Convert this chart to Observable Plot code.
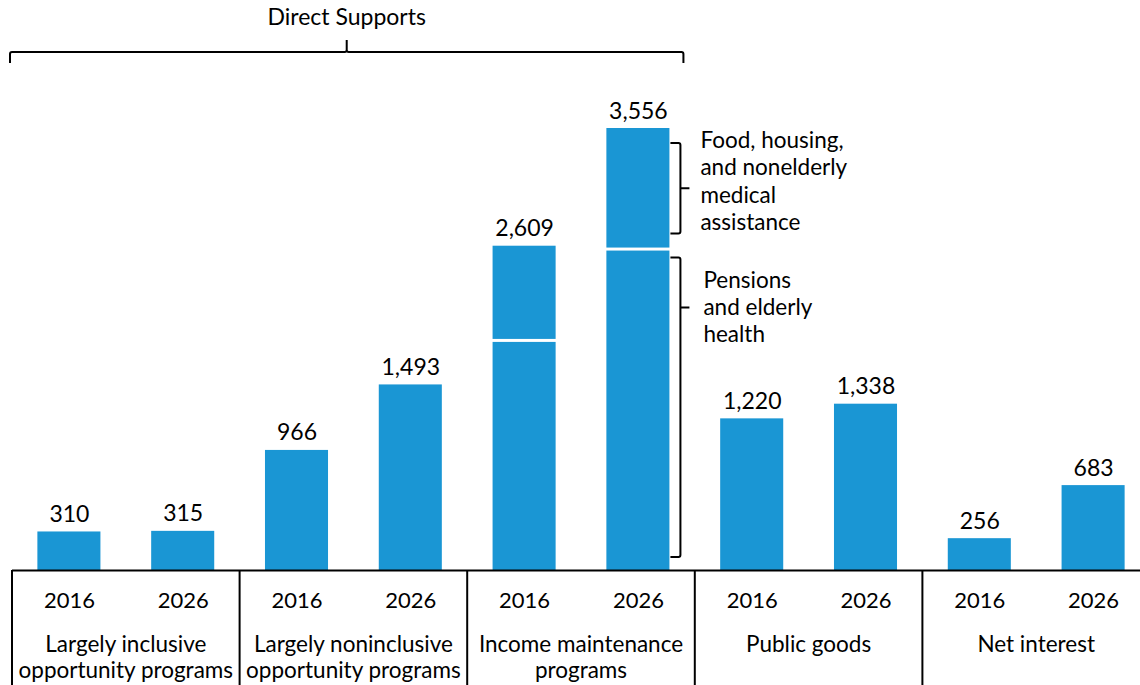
<!DOCTYPE html>
<html><head><meta charset="utf-8">
<script src="https://cdn.jsdelivr.net/npm/d3@7"></script>
<script src="https://cdn.jsdelivr.net/npm/@observablehq/plot@0.6"></script>
<style>
body{margin:0;background:#fff;}
#chart svg{display:block;font-family:Lato,"Noto Sans",sans-serif;}
</style></head><body><div id="chart"></div>
<script>
// ---- data ----
const groups = ["Largely inclusive opportunity programs","Largely noninclusive opportunity programs","Income maintenance programs","Public goods","Net interest"];
const groupLines = [["Largely inclusive","opportunity programs"],["Largely noninclusive","opportunity programs"],["Income maintenance","programs"],["Public goods"],["Net interest"]];
const years = ["2016","2026"];
const totals2016 = [310, 966, 2609, 1220, 256];
const totals2026 = [315, 1493, 3556, 1338, 683];
const stackedGroup = "Income maintenance programs";
const pensionsElderly = [1835, 2570]; // lower segment (2016, 2026)
const annotationFood = ["Food, housing,","and nonelderly","medical","assistance"];
const annotationPensions = ["Pensions","and elderly","health"];
const bracketLabel = "Direct Supports";
const bracketGroupCount = 3;

// ---- derived table ----
const keyOf = (g, yr) => g + "|" + yr;
const rows = [];
groups.forEach((g, i) => {
  years.forEach((yr, j) => {
    const total = (j === 0 ? totals2016 : totals2026)[i];
    const lower = g === stackedGroup ? pensionsElderly[j] : total;
    rows.push({key: keyOf(g, yr), group: g, year: yr, total, lower});
  });
});
const keys = rows.map(d => d.key);
const lowerRows = rows.map(d => ({key: d.key, y1: 0, y2: d.lower}));
const upperRows = rows.filter(d => d.lower < d.total).map(d => ({key: d.key, y1: d.lower, y2: d.total}));

const blue = "#1a96d4";
const FONT = "Lato, 'Noto Sans', sans-serif";

function annotate(index, scales, values, dimensions) {
  const {x, y} = scales;
  const bw = x.bandwidth();
  const step = x(keyOf(groups[0], years[1])) - x(keyOf(groups[0], years[0]));
  const gap = step - bw;
  const base = y(0);
  const g = d3.create("svg:g").attr("font-family", FONT).attr("fill", "#000").attr("text-anchor", "start");
  // group dividers and labels
  groups.forEach((grp, i) => {
    const bx = x(keyOf(grp, years[0])) - gap / 2;
    g.append("line").attr("x1", bx).attr("x2", bx).attr("y1", base).attr("y2", dimensions.height)
      .attr("stroke", "#000").attr("stroke-width", 2);
    const cx = bx + step;
    const t = g.append("text").attr("text-anchor", "middle").attr("font-size", 22.5);
    groupLines[i].forEach((line, j) => t.append("tspan").attr("x", cx).attr("y", base + 82 + j * 26).text(line));
  });
  // Direct Supports bracket
  const bl = x(keyOf(groups[0], years[0])) - gap / 2 - 2;
  const br = x(keyOf(groups[bracketGroupCount - 1], years[1])) + bw + 14;
  const bm = (bl + br) / 2;
  const by = 52;
  g.append("path").attr("fill", "none").attr("stroke", "#000").attr("stroke-width", 2)
    .attr("d", `M${bl},${by + 11}V${by + 2}Q${bl},${by} ${bl + 2},${by}H${bm - 2}Q${bm},${by} ${bm},${by - 2}V${by - 12}M${bm},${by - 2}Q${bm},${by} ${bm + 2},${by}H${br - 2}Q${br},${by} ${br},${by + 2}V${by + 11}`);
  g.append("text").attr("x", bm).attr("y", 25).attr("text-anchor", "middle").attr("font-size", 23).text(bracketLabel);
  // side brackets for stacked bar
  const s = rows.find(d => d.key === keyOf(stackedGroup, years[1]));
  const ex = x(s.key) + bw;
  const vx = ex + 11, hx = ex + 1, tx = ex + 20;
  const topY0 = y(s.total) + 15, topY1 = y(s.lower) - 17, topMid = (topY0 + topY1) / 2;
  const lowY0 = y(s.lower) + 7, lowY1 = base - 13, lowMid = y(s.lower) + 57;
  const bracket = (y0, y1, ym) => `M${hx},${y0}H${vx - 2}Q${vx},${y0} ${vx},${y0 + 2}V${y1 - 2}Q${vx},${y1} ${vx - 2},${y1}H${hx}M${vx},${ym}H${tx}`;
  g.append("path").attr("fill", "none").attr("stroke", "#000").attr("stroke-width", 2).attr("d", bracket(topY0, topY1, topMid));
  g.append("path").attr("fill", "none").attr("stroke", "#000").attr("stroke-width", 2).attr("d", bracket(lowY0, lowY1, lowMid));
  const t1 = g.append("text").attr("font-size", 22.5).attr("text-anchor", "start");
  annotationFood.forEach((line, j) => t1.append("tspan").attr("x", ex + 31).attr("y", y(s.total) + 20 + j * 27.3).text(line));
  const t2 = g.append("text").attr("font-size", 22.5).attr("text-anchor", "start");
  annotationPensions.forEach((line, j) => t2.append("tspan").attr("x", ex + 34).attr("y", y(s.lower) + 37 + j * 27).text(line));
  return g.node();
}

const chart = Plot.plot({
  width: 1140,
  height: 685,
  marginTop: 128,
  marginBottom: 115,
  marginLeft: 12,
  marginRight: 0,
  style: {fontFamily: FONT, color: "#000", background: "#fff"},
  x: {type: "band", domain: keys, range: [12, 1150], paddingInner: 0.446, paddingOuter: 0.223, round: false},
  y: {domain: [0, 3556], axis: null},
  marks: [
    Plot.barY(lowerRows, {x: "key", y1: "y1", y2: "y2", fill: blue}),
    Plot.barY(upperRows, {x: "key", y1: "y1", y2: "y2", fill: blue, insetBottom: 3}),
    Plot.text(rows, {x: "key", y: "total", text: d => d3.format(",")(d.total), lineAnchor: "bottom", dy: -10, fontSize: 23, fill: "#000"}),
    Plot.ruleY([0], {stroke: "#000", strokeWidth: 2}),
    Plot.axisX({tickSize: 0, tickPadding: 22, tickFormat: k => k.split("|")[1], fontSize: 22, label: null}),
    annotate
  ]
});
document.getElementById("chart").appendChild(chart);
</script>
</body></html>
